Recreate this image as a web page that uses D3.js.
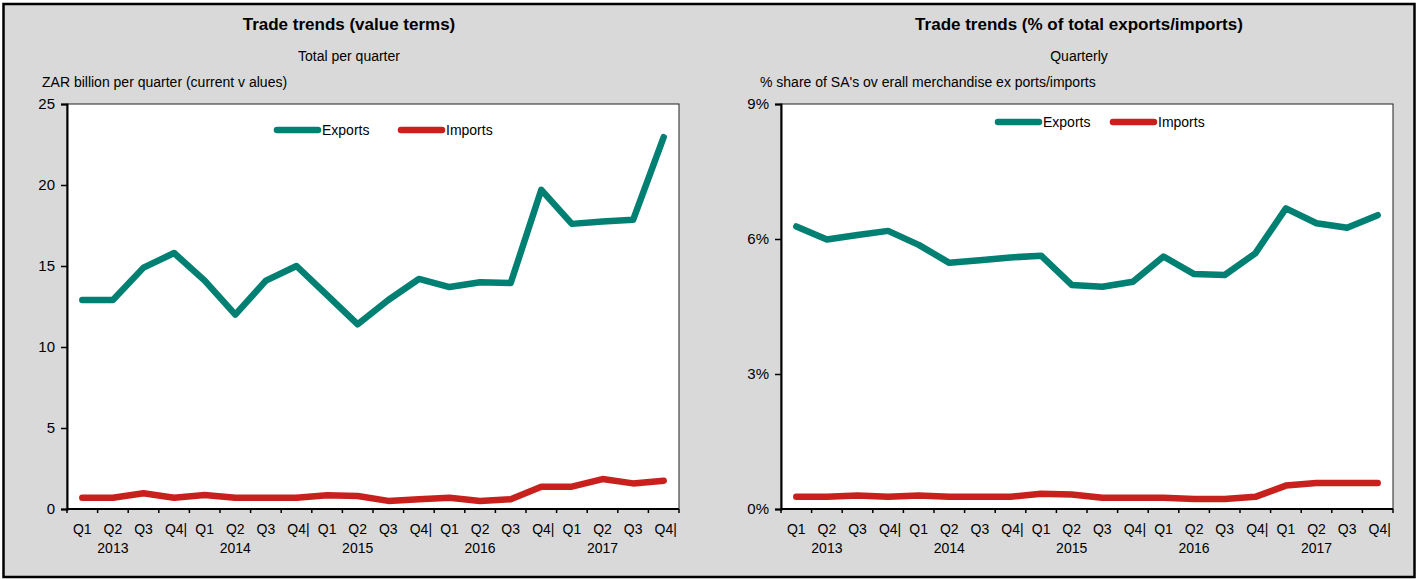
<!DOCTYPE html>
<meta charset="utf-8">
<style>
  body { margin: 0; background: #fff; }
  svg text { font-family: 'Liberation Sans Narrow', 'Arial Narrow', 'Liberation Sans', sans-serif; fill: #000; }
</style>
<svg width="1421" height="579"></svg>
<script src="https://cdn.jsdelivr.net/npm/d3@7/dist/d3.min.js"></script>
<script>
// categories
var quarters = ['Q1', 'Q2', 'Q3', 'Q4|', 'Q1', 'Q2', 'Q3', 'Q4|', 'Q1', 'Q2', 'Q3', 'Q4|',
                'Q1', 'Q2', 'Q3', 'Q4|', 'Q1', 'Q2', 'Q3', 'Q4|']
var years = ['2013', '2014', '2015', '2016', '2017']

// left chart: ZAR billion per quarter
var valueExports = [12.9, 12.9, 14.9, 15.8, 14.1, 12.0, 14.1, 15.0, 13.2, 11.4,
                    12.9, 14.2, 13.7, 14.0, 13.95, 19.7, 17.6, 17.75, 17.85, 22.95]
var valueImports = [0.7, 0.7, 0.97, 0.7, 0.86, 0.7, 0.7, 0.7, 0.85, 0.8,
                    0.5, 0.6, 0.7, 0.5, 0.6, 1.38, 1.38, 1.85, 1.58, 1.75]
var valueTicks = [0, 5, 10, 15, 20, 25]

// right chart: % share of overall exports/imports
var shareExports = [6.28, 5.99, 6.09, 6.18, 5.87, 5.47, 5.53, 5.59, 5.63, 4.98,
                    4.94, 5.05, 5.61, 5.22, 5.2, 5.68, 6.68, 6.35, 6.25, 6.53]
var shareImports = [0.27, 0.27, 0.3, 0.27, 0.3, 0.27, 0.27, 0.27, 0.34, 0.32,
                    0.25, 0.25, 0.25, 0.22, 0.22, 0.27, 0.52, 0.58, 0.58, 0.58]
var shareTicks = [0, 3, 6, 9]

var seriesNames = ['Exports', 'Imports']
var colors = { Exports: '#008072', Imports: '#C8201C' }

var svg = d3.select('svg')

// outer frame
svg.append('rect')
    .attr('x', 3.5).attr('y', 4).attr('width', 1411).attr('height', 573)
    .attr('fill', '#D9D9D9')
    .attr('stroke', '#000')
    .attr('stroke-width', 2.5)

function drawChart(opts) {
  var left = opts.left, right = opts.right, top = 104, bottom = 509
  var idx = d3.range(quarters.length)

  var x = d3.scaleBand().domain(idx).range([left, right])
  var y = d3.scaleLinear().domain(opts.domain).range([bottom, top])

  var g = svg.append('g')

  // titles
  g.append('text')
      .attr('x', opts.center).attr('y', 30)
      .attr('text-anchor', 'middle')
      .style('font-weight', 'bold').style('font-size', '17px')
      .text(opts.title)
  g.append('text')
      .attr('x', opts.center).attr('y', 61)
      .attr('text-anchor', 'middle')
      .style('font-size', '14px')
      .text(opts.subtitle)
  g.append('text')
      .attr('x', opts.unitX).attr('y', 87)
      .style('font-size', '14px')
      .text(opts.unit)

  // plot area
  g.append('rect')
      .attr('x', left).attr('y', top)
      .attr('width', right - left).attr('height', bottom - top)
      .attr('fill', '#fff')
      .attr('stroke', '#222').attr('stroke-width', 1)

  // y axis
  var yAxis = g.append('g')
      .attr('transform', 'translate(' + left + ',0)')
      .call(d3.axisLeft(y).tickValues(opts.ticks).tickSize(6).tickPadding(6).tickFormat(opts.fmt))
  yAxis.select('.domain').attr('stroke', '#000').attr('stroke-width', 2)
  yAxis.selectAll('.tick line').attr('stroke', '#000').attr('stroke-width', 1.5)
  yAxis.selectAll('text').style('font-size', '15px').attr('fill', '#000')

  // x axis: ticks at category boundaries
  var xg = g.append('g')
  xg.append('line')
      .attr('x1', left).attr('x2', right)
      .attr('y1', bottom).attr('y2', bottom)
      .attr('stroke', '#000').attr('stroke-width', 2)
  xg.selectAll('.xtick')
      .data(d3.range(quarters.length + 1))
    .join('line')
      .attr('class', 'xtick')
      .attr('x1', function(i) { return i < quarters.length ? x(i) : right })
      .attr('x2', function(i) { return i < quarters.length ? x(i) : right })
      .attr('y1', bottom).attr('y2', bottom + 4)
      .attr('stroke', '#000').attr('stroke-width', 1.5)
  xg.selectAll('.qlab')
      .data(quarters)
    .join('text')
      .attr('class', 'qlab')
      .attr('x', function(d, i) { return x(i) + x.bandwidth() / 2 + (d === 'Q4|' ? 2 : 0) })
      .attr('y', 534)
      .attr('text-anchor', 'middle')
      .style('font-size', '14px')
      .text(function(d) { return d })
  xg.selectAll('.ylab')
      .data(years)
    .join('text')
      .attr('class', 'ylab')
      .attr('x', function(d, i) { return x(i * 4 + 1) + x.bandwidth() / 2 })
      .attr('y', 553)
      .attr('text-anchor', 'middle')
      .style('font-size', '14px')
      .text(function(d) { return d })

  // lines
  var line = d3.line()
      .x(function(d, i) { return x(i) + x.bandwidth() / 2 })
      .y(function(d) { return y(d) })

  var series = [opts.exports, opts.imports]
  seriesNames.forEach(function(name, k) {
    g.append('path')
        .datum(series[k])
        .attr('fill', 'none')
        .attr('stroke', colors[name])
        .attr('stroke-width', 6.5)
        .attr('stroke-linecap', 'round')
        .attr('stroke-linejoin', 'round')
        .attr('d', line)
  })

  // legend
  var lg = g.append('g')
  seriesNames.forEach(function(name, k) {
    var lx = opts.legendX[k]
    lg.append('line')
        .attr('x1', lx).attr('x2', lx + 41)
        .attr('y1', opts.legendY).attr('y2', opts.legendY)
        .attr('stroke', colors[name]).attr('stroke-width', 6.5)
        .attr('stroke-linecap', 'round')
    lg.append('text')
        .attr('x', lx + 45).attr('y', opts.legendY + 5)
        .style('font-size', '14px')
        .text(name)
  })
}

drawChart({
  left: 67, right: 679, center: 349,
  title: 'Trade trends (value terms)',
  subtitle: 'Total per quarter',
  unit: 'ZAR billion per quarter (current v alues)', unitX: 42,
  domain: [0, 25], ticks: valueTicks, fmt: d3.format('d'),
  exports: valueExports, imports: valueImports,
  legendX: [277, 401], legendY: 130
})

drawChart({
  left: 781, right: 1393, center: 1079,
  title: 'Trade trends (% of total exports/imports)',
  subtitle: 'Quarterly',
  unit: "% share of SA's ov erall merchandise ex ports/imports", unitX: 760,
  domain: [0, 9], ticks: shareTicks, fmt: function(d) { return d + '%' },
  exports: shareExports, imports: shareImports,
  legendX: [998, 1113], legendY: 122
})
</script>
